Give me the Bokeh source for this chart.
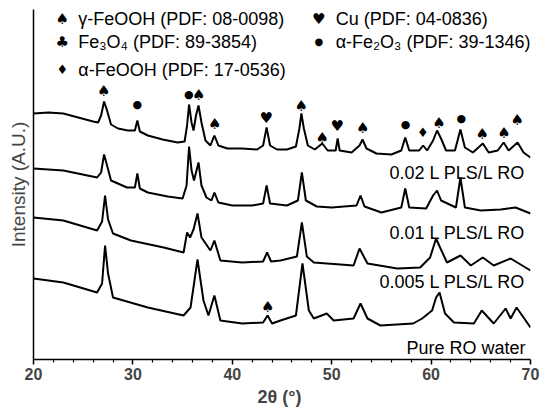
from bokeh.plotting import figure
from bokeh.models import Range1d, FixedTicker
from bokeh.core.properties import value
from bokeh.embed import file_html
from bokeh.resources import INLINE

FONT = "Liberation Sans"
SYM_FONT = "DejaVu Sans"

# ---- XRD traces (2theta in degrees, intensity in arbitrary offset units) ----
tt_002 = [20.0, 21.5, 23.0, 24.5, 26.0, 26.5, 26.8, 27.1, 27.4, 27.8, 28.5, 29.5, 30.2, 30.45, 30.7,
          31.5, 33.0, 34.5, 35.2, 35.45, 35.65, 35.9, 36.1, 36.35, 36.6, 36.9, 37.3, 37.8, 38.2, 38.6,
          39.5, 41.0, 42.5, 43.1, 43.45, 43.8, 44.5, 45.5, 46.4, 46.75, 46.95, 47.2, 47.6, 48.3, 49.05,
          49.6, 50.4, 50.6, 50.8, 52.0, 52.8, 53.1, 53.5, 54.5, 56.0, 57.0, 57.4, 57.8, 58.8, 59.2,
          59.6, 60.2, 60.6, 61.0, 61.5, 62.4, 62.95, 63.4, 64.2, 65.2, 65.8, 66.7, 67.3, 67.8, 68.7,
          69.3, 70.0]
int_002 = [246, 247, 246, 242, 238, 237, 244, 258, 249, 235, 231, 229, 229, 239, 228,
           224, 220, 217, 218, 234, 255, 237, 229, 244, 254, 237, 219, 214, 224, 214,
           211, 211, 210, 214, 232, 214, 210, 210, 213, 231, 246, 231, 214, 210, 216,
           209, 209, 221, 209, 207, 214, 220, 211, 206, 205, 209, 222, 209, 209, 214,
           209, 219, 229, 221, 209, 209, 230, 212, 207, 216, 207, 209, 217, 209, 217,
           207, 202]

tt_001 = [20.0, 23.0, 26.4, 26.8, 27.1, 27.4, 27.8, 29.4, 30.2, 30.45, 30.7, 31.5, 33.5, 35.0, 35.4,
          35.65, 35.9, 36.15, 36.6, 36.9, 37.4, 37.9, 38.2, 38.6, 40.0, 42.0, 43.1, 43.45, 43.8, 45.5,
          46.6, 47.0, 47.4, 48.5, 50.0, 52.5, 52.9, 53.3, 55.0, 57.0, 57.4, 57.8, 59.5, 60.2, 60.6,
          61.0, 62.5, 62.95, 63.4, 65.0, 67.0, 68.5, 70.0]
int_001 = [191, 189, 182, 187, 205, 194, 179, 172, 172, 186, 171, 167, 163, 161, 174,
           213, 189, 179, 197, 174, 162, 159, 167, 157, 154, 154, 156, 174, 156, 154,
           159, 187, 159, 153, 152, 154, 164, 153, 147, 152, 171, 152, 151, 164, 169,
           159, 152, 182, 152, 149, 150, 152, 146]

tt_0005 = [20.0, 23.0, 26.4, 26.9, 27.2, 27.5, 28.0, 29.8, 33.1, 35.1, 35.45, 35.75, 36.1, 36.5, 36.9,
           37.8, 38.2, 38.8, 41.0, 43.1, 43.5, 43.9, 44.85, 46.5, 47.0, 47.5, 48.2, 52.2, 52.8, 53.6,
           56.6, 58.9, 59.9, 60.5, 60.9, 61.6, 62.96, 64.0, 65.2, 66.3, 68.0, 69.0, 70.0]
int_0005 = [142, 139, 129, 138, 164, 140, 126, 119, 112, 107, 127, 122, 130, 146, 122,
            109, 119, 99, 97, 98, 107, 98, 99, 103, 137, 103, 97, 94, 111, 96,
            91, 92, 102, 121, 112, 97, 104, 94, 102, 94, 101, 95, 89]

tt_ro = [20.0, 23.0, 26.4, 26.9, 27.2, 27.5, 28.0, 31.5, 35.1, 35.8, 36.5, 37.1, 37.6, 38.2, 38.8,
         41.0, 43.1, 43.55, 44.0, 44.85, 46.4, 47.06, 47.7, 48.2, 49.5, 50.2, 52.2, 52.9, 53.6, 54.9,
         58.2, 59.1, 60.1, 60.5, 60.85, 61.4, 62.3, 64.3, 65.1, 66.3, 67.5, 68.0, 68.6, 70.0]
int_ro = [81, 77, 67, 76, 114, 86, 62, 52, 44, 52, 100, 59, 44, 64, 39,
          36, 37, 44, 36, 39, 44, 96, 49, 41, 46, 39, 41, 56, 41, 34,
          36, 41, 49, 62, 67, 46, 37, 36, 49, 36, 51, 41, 52, 32]

series_labels = ["0.02 L PLS/L RO", "0.01 L PLS/L RO", "0.005 L PLS/L RO", "Pure RO water"]
series_label_y = [187, 127, 78, 12]

# ---- phase markers ----
spade_x = [27.07, 36.63, 38.24, 46.93, 49.04, 53.13, 60.78, 65.14, 67.32, 68.66, 43.57]
spade_y = [269, 265, 236, 254, 222, 232, 237, 226, 227, 240, 53]
heart_x = [43.41, 50.55]
heart_y = [242, 234]
dot_x = [30.43, 35.62, 57.42, 63.03]
dot_y = [255, 265, 235, 241]
diamond_x = [59.17]
diamond_y = [227]

legend_symbols = ["\u2660", "\u2663", "\u2666", "\u2665", "\u25cf"]
legend_texts = ["\u03b3-FeOOH (PDF: 08-0098)", "Fe\u2083O\u2084 (PDF: 89-3854)",
                "\u03b1-FeOOH (PDF: 17-0536)", "Cu (PDF: 04-0836)",
                "\u03b1-Fe\u2082O\u2083 (PDF: 39-1346)"]

x_ticks = [20, 30, 40, 50, 60, 70]
x_minor = [22, 24, 26, 28, 32, 34, 36, 38, 42, 44, 46, 48, 52, 54, 56, 58, 62, 64, 66, 68]

p = figure(width=548, height=412, output_backend="svg", toolbar_location=None,
           x_range=Range1d(20, 70), y_range=Range1d(0, 350),
           min_border_left=33, min_border_right=18, min_border_top=9, min_border_bottom=53)
p.outline_line_color = None
p.xgrid.visible = False
p.ygrid.visible = False

for xs, ys in [(tt_002, int_002), (tt_001, int_001), (tt_0005, int_0005), (tt_ro, int_ro)]:
    p.line(xs, ys, line_color="black", line_width=2)

for txt, yy in zip(series_labels, series_label_y):
    p.text(x=[69.5], y=[yy], text=[txt], text_font=value(FONT), text_font_size="18px",
           text_align="right", text_baseline="middle", text_color="black")

def sym(xs, ys, ch, size):
    p.text(x=xs, y=ys, text=[ch] * len(xs), text_font=value(SYM_FONT), text_font_size=size,
           text_align="center", text_baseline="middle", text_color="black")

sym(spade_x, spade_y, "\u2660", "15px")
sym(heart_x, heart_y, "\u2665", "15px")
sym(dot_x, dot_y, "\u25cf", "11px")
sym(diamond_x, diamond_y, "\u2666", "13px")

# legend block
leg_sym_x = [22.9, 22.9, 22.9, 48.7, 48.7]
leg_txt_x = [24.5, 24.5, 24.5, 50.4, 50.4]
leg_y = [341, 318, 290, 341, 318]
leg_sym_size = ["15px", "15px", "13px", "15px", "10px"]
for sx, tx, yy, s, t, fs in zip(leg_sym_x, leg_txt_x, leg_y, legend_symbols, legend_texts, leg_sym_size):
    p.text(x=[sx], y=[yy], text=[s], text_font=value(SYM_FONT), text_font_size=fs,
           text_align="center", text_baseline="middle", text_color="black")
    p.text(x=[tx], y=[yy], text=[t], text_font=value(FONT), text_font_size="18px",
           text_align="left", text_baseline="middle", text_color="black")

xa = p.xaxis[0]
xa.ticker = FixedTicker(ticks=x_ticks, minor_ticks=x_minor)
xa.axis_label = "2\u03b8  (\u00b0)"
xa.axis_label_text_font = FONT
xa.axis_label_text_font_size = "18px"
xa.axis_label_text_font_style = "bold"
xa.axis_label_standoff = 4
xa.major_label_text_font = FONT
xa.major_label_text_font_size = "16px"
xa.major_label_text_font_style = "bold"
xa.major_label_standoff = 3
xa.axis_line_width = 1.5
xa.major_tick_out = 5
xa.major_tick_in = 0
xa.minor_tick_out = 3
xa.minor_tick_in = 0
xa.major_tick_line_width = 1.5
xa.minor_tick_line_width = 1.2

ya = p.yaxis[0]
ya.ticker = FixedTicker(ticks=[])
ya.axis_label = "Intensity (A.U.)"
ya.axis_label_text_font = FONT
ya.axis_label_text_font_size = "19px"
ya.axis_label_text_font_style = "normal"
ya.axis_label_standoff = 5
ya.axis_line_color = "black"
ya.axis_line_width = 1.5

open("out.html", "w").write(file_html(p, INLINE))
